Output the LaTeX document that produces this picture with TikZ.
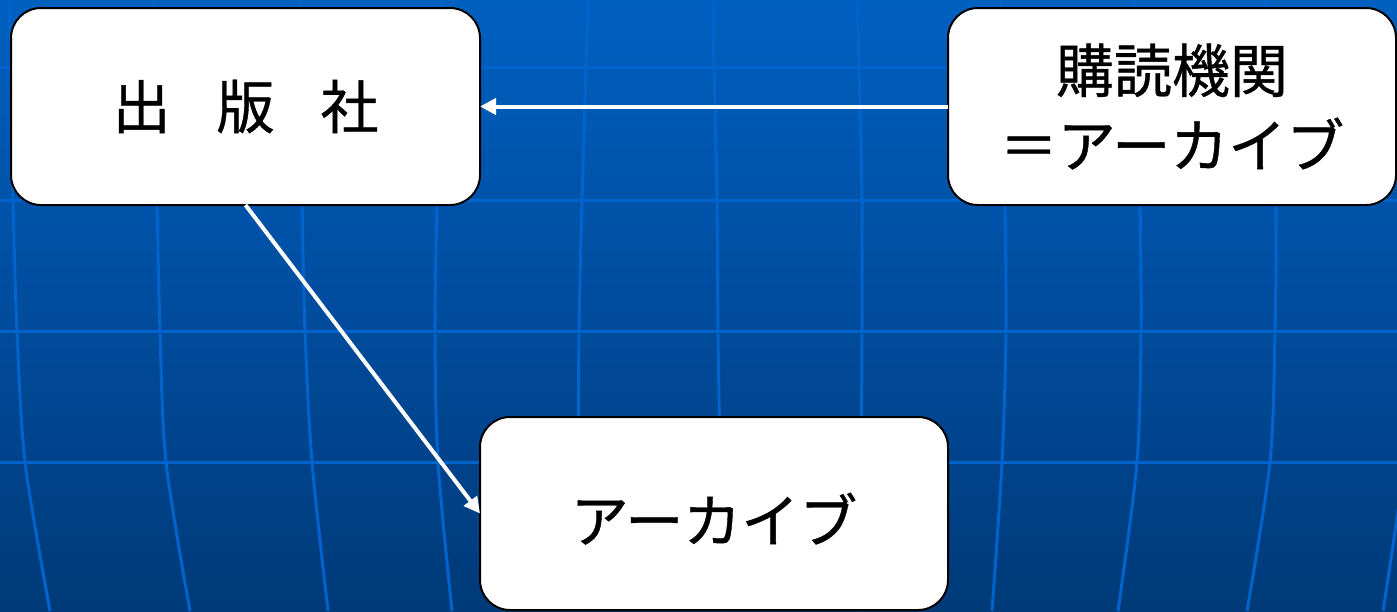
\documentclass[tikz,border=0pt]{standalone}
\usepackage{fontspec}
\newfontfamily\jp{Noto Sans CJK JP}[FakeBold=0.7]
\usetikzlibrary{arrows.meta}
\definecolor{bgtop}{RGB}{0,96,192}
\definecolor{bgmid}{RGB}{0,76,158}
\definecolor{bgbot}{RGB}{0,58,120}
\definecolor{gridc}{RGB}{0,100,204}
\tikzset{
  box/.style={draw=black, line width=1pt, fill=white, rounded corners=15pt,
    inner sep=0pt, outer sep=0pt, align=center, text=black,
    font=\jp\fontsize{29}{37.5}\selectfont},
  conn/.style={draw=white, line width=2pt, -{Triangle[length=8pt,width=8pt]}},
  gridline/.style={draw=gridc, line width=1.5pt}
}
\begin{document}
\begin{tikzpicture}[x=0.5pt,y=-0.5pt]
\useasboundingbox (0,0) rectangle (1397,611);
\begin{scope}
\clip (0,0) rectangle (1397,611);
\shade[top color=bgtop, bottom color=bgbot, middle color=bgmid] (0,0) rectangle (1397,611);
% horizontal grid lines
\foreach \yy in {67,200,331,462} {
  \draw[gridline] (0,\yy) -- (1397,\yy);
}
% vertical curved grid lines
\draw[gridline] plot[smooth] coordinates {(9,0) (11,67) (13,200) (17,331) (25,462) (50,611)};
\draw[gridline] plot[smooth] coordinates {(154,0) (155,67) (157,200) (160,331) (166,462) (190,611)};
\draw[gridline] plot[smooth] coordinates {(299,0) (300,67) (302,200) (305,331) (312,462) (328,611)};
\draw[gridline] plot[smooth] coordinates {(442,0) (440,67) (437,200) (435,331) (438,462) (452,611)};
\draw[gridline] plot[smooth] coordinates {(588,0) (586,67) (582,200) (579,331) (579,462) (585,611)};
\draw[gridline] plot[smooth] coordinates {(713,0) (714,67) (717,200) (718,331) (720,462) (722,611)};
\draw[gridline] plot[smooth] coordinates {(857,0) (859,67) (862,200) (862,331) (861,462) (858,611)};
\draw[gridline] plot[smooth] coordinates {(1000,0) (1003,67) (1005,200) (1006,331) (1002,462) (992,611)};
\draw[gridline] plot[smooth] coordinates {(1134,0) (1137,67) (1140,200) (1141,331) (1137,462) (1118,611)};
\draw[gridline] plot[smooth] coordinates {(1266,0) (1271,67) (1276,200) (1275,331) (1270,462) (1247,611)};
\draw[gridline] plot[smooth] coordinates {(1402,0) (1407,67) (1410,200) (1409,331) (1404,462) (1383,611)};
\end{scope}
% boxes
\node[box, minimum width=234.5pt, minimum height=98.5pt] (pub) at (245.5,106.5)
  {出\hspace{23pt}版\hspace{23pt}社};
\node[box, minimum width=224pt, minimum height=98.5pt] (sub) at (1172,106.5)
  {購読機関\\＝アーカイブ};
\node[box, minimum width=234pt, minimum height=96.5pt, text height=30pt] (arc) at (714,513.5)
  {アーカイブ};
% connectors
\draw[conn] (sub.west) -- (pub.east);
\draw[conn] (pub.south) -- (arc.west);
\end{tikzpicture}
\end{document}
